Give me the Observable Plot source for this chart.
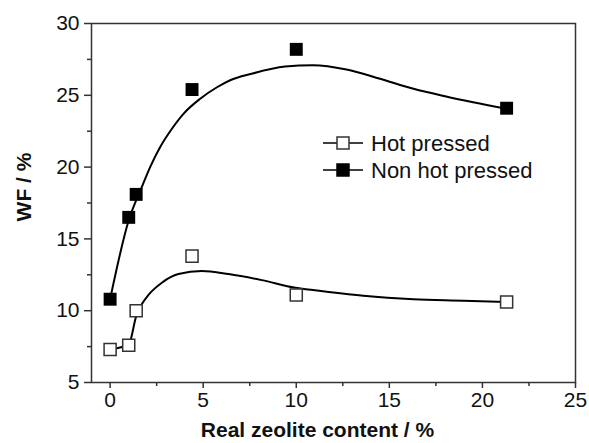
<!DOCTYPE html>
<html><head><meta charset="utf-8">
<script src="https://cdn.jsdelivr.net/npm/d3@7"></script>
<script src="https://cdn.jsdelivr.net/npm/@observablehq/plot@0.6"></script>
<style>
body{margin:0;background:#fff;}
#wrap{position:relative;width:589px;height:443px;}
</style></head><body><div id="wrap"></div>
<script>
// measured points
const zeoliteContent = [0, 1.0, 1.4, 4.4, 10.0, 21.3];
const hotPressed = [7.3, 7.6, 10.0, 13.8, 11.1, 10.6];
const nonHotPressed = [10.8, 16.5, 18.1, 25.4, 28.2, 24.1];
// fitted curves
const hotFitX = [0, 1.0, 1.4, 1.7, 2.06, 2.78, 3.67, 4.93, 6.36, 8.15, 9.95, 10.9, 13.6, 16.3, 19.0, 21.3];
const hotFitY = [7.3, 7.65, 9.6, 10.45, 11.1, 11.95, 12.55, 12.76, 12.55, 12.13, 11.6, 11.44, 11.04, 10.8, 10.7, 10.6];
const nonHotFitX = [0, 1.0, 1.7, 2.15, 2.69, 3.32, 3.94, 4.84, 5.74, 6.45, 7.6, 9.4, 10.9, 12.7, 14.5, 16.3, 18.1, 21.3];
const nonHotFitY = [10.8, 16.3, 18.6, 20.0, 21.4, 22.67, 23.71, 24.76, 25.56, 26.05, 26.5, 27.0, 27.1, 26.8, 26.15, 25.45, 24.9, 24.06];
const xTicks = [0, 5, 10, 15, 20, 25];
const xMinorTicks = [2.5, 7.5, 12.5, 17.5, 22.5];
const yTicks = [5, 10, 15, 20, 25, 30];
const yMinorTicks = [7.5, 12.5, 17.5, 22.5, 27.5];
const seriesNames = ["Hot pressed", "Non hot pressed"];
const xLabel = "Real zeolite content / %";
const yLabel = "WF / %";

const hotPts = zeoliteContent.map((x, i) => ({x, y: hotPressed[i]}));
const nonHotPts = zeoliteContent.map((x, i) => ({x, y: nonHotPressed[i]}));
const hotFit = hotFitX.map((x, i) => ({x, y: hotFitY[i]}));
const nonHotFit = nonHotFitX.map((x, i) => ({x, y: nonHotFitY[i]}));

const font = "Liberation Sans, Arial, Helvetica, sans-serif";
const chart = Plot.plot({
  width: 589, height: 443,
  marginLeft: 91, marginRight: 14, marginTop: 23, marginBottom: 61,
  x: {domain: [-1, 25]},
  y: {domain: [5, 30]},
  style: {fontFamily: font, fontSize: "21px", color: "#111", background: "#fff", overflow: "visible"},
  marks: [
    Plot.axisX({ticks: xTicks, tickSize: 6, tickPadding: 4, label: null, fontSize: 21, stroke: "#333", strokeWidth: 1.5, strokeOpacity: 1, fill: "#111"}),
    Plot.axisX({ticks: xMinorTicks, tickSize: 4, text: null, label: null, stroke: "#333", strokeWidth: 1.5, strokeOpacity: 1}),
    Plot.axisY({ticks: yTicks, tickSize: 7, tickPadding: 5, label: null, fontSize: 21, stroke: "#333", strokeWidth: 1.5, strokeOpacity: 1, fill: "#111"}),
    Plot.axisY({ticks: yMinorTicks, tickSize: 4, text: null, label: null, stroke: "#333", strokeWidth: 1.5, strokeOpacity: 1}),
    Plot.frame({stroke: "#333", strokeWidth: 1.5}),
    Plot.line(nonHotFit, {x: "x", y: "y", curve: "monotone-x", stroke: "#000", strokeWidth: 2}),
    Plot.line(hotFit, {x: "x", y: "y", curve: "monotone-x", stroke: "#000", strokeWidth: 2}),
    Plot.dot(nonHotPts, {x: "x", y: "y", symbol: "square", r: 7.3, fill: "#000", stroke: "none"}),
    Plot.dot(hotPts, {x: "x", y: "y", symbol: "square", r: 6.8, fill: "#fff", stroke: "#333", strokeWidth: 1.5}),
    Plot.text([xLabel], {frameAnchor: "bottom", textAnchor: "middle", dx: -16, dy: 54, fontWeight: "bold", fontSize: 21, fill: "#111"}),
    Plot.text([yLabel], {frameAnchor: "left", textAnchor: "middle", rotate: -90, dx: -67, dy: -16, fontWeight: "bold", fontSize: 21, fill: "#111"})
  ]
});
document.getElementById("wrap").appendChild(chart);

// legend inside the plot area
const svg = d3.select(chart);
const lg = svg.append("g").attr("transform", "translate(323,143)");
seriesNames.forEach((name, i) => {
  const g = lg.append("g").attr("transform", `translate(0,${i * 27})`);
  g.append("line").attr("x1", 0).attr("x2", 40).attr("y1", 0).attr("y2", 0).attr("stroke", "#000").attr("stroke-width", 1.5);
  g.append("rect").attr("x", 14).attr("y", -6).attr("width", 12).attr("height", 12)
    .attr("fill", i === 0 ? "#fff" : "#000").attr("stroke", i === 0 ? "#333" : "#000").attr("stroke-width", 1.5);
  g.append("text").attr("x", 48).attr("y", 0).attr("dy", "0.35em").attr("font-size", 22)
    .attr("text-anchor", "start").attr("font-family", font).attr("fill", "#111").text(name);
});
</script>
</body></html>
